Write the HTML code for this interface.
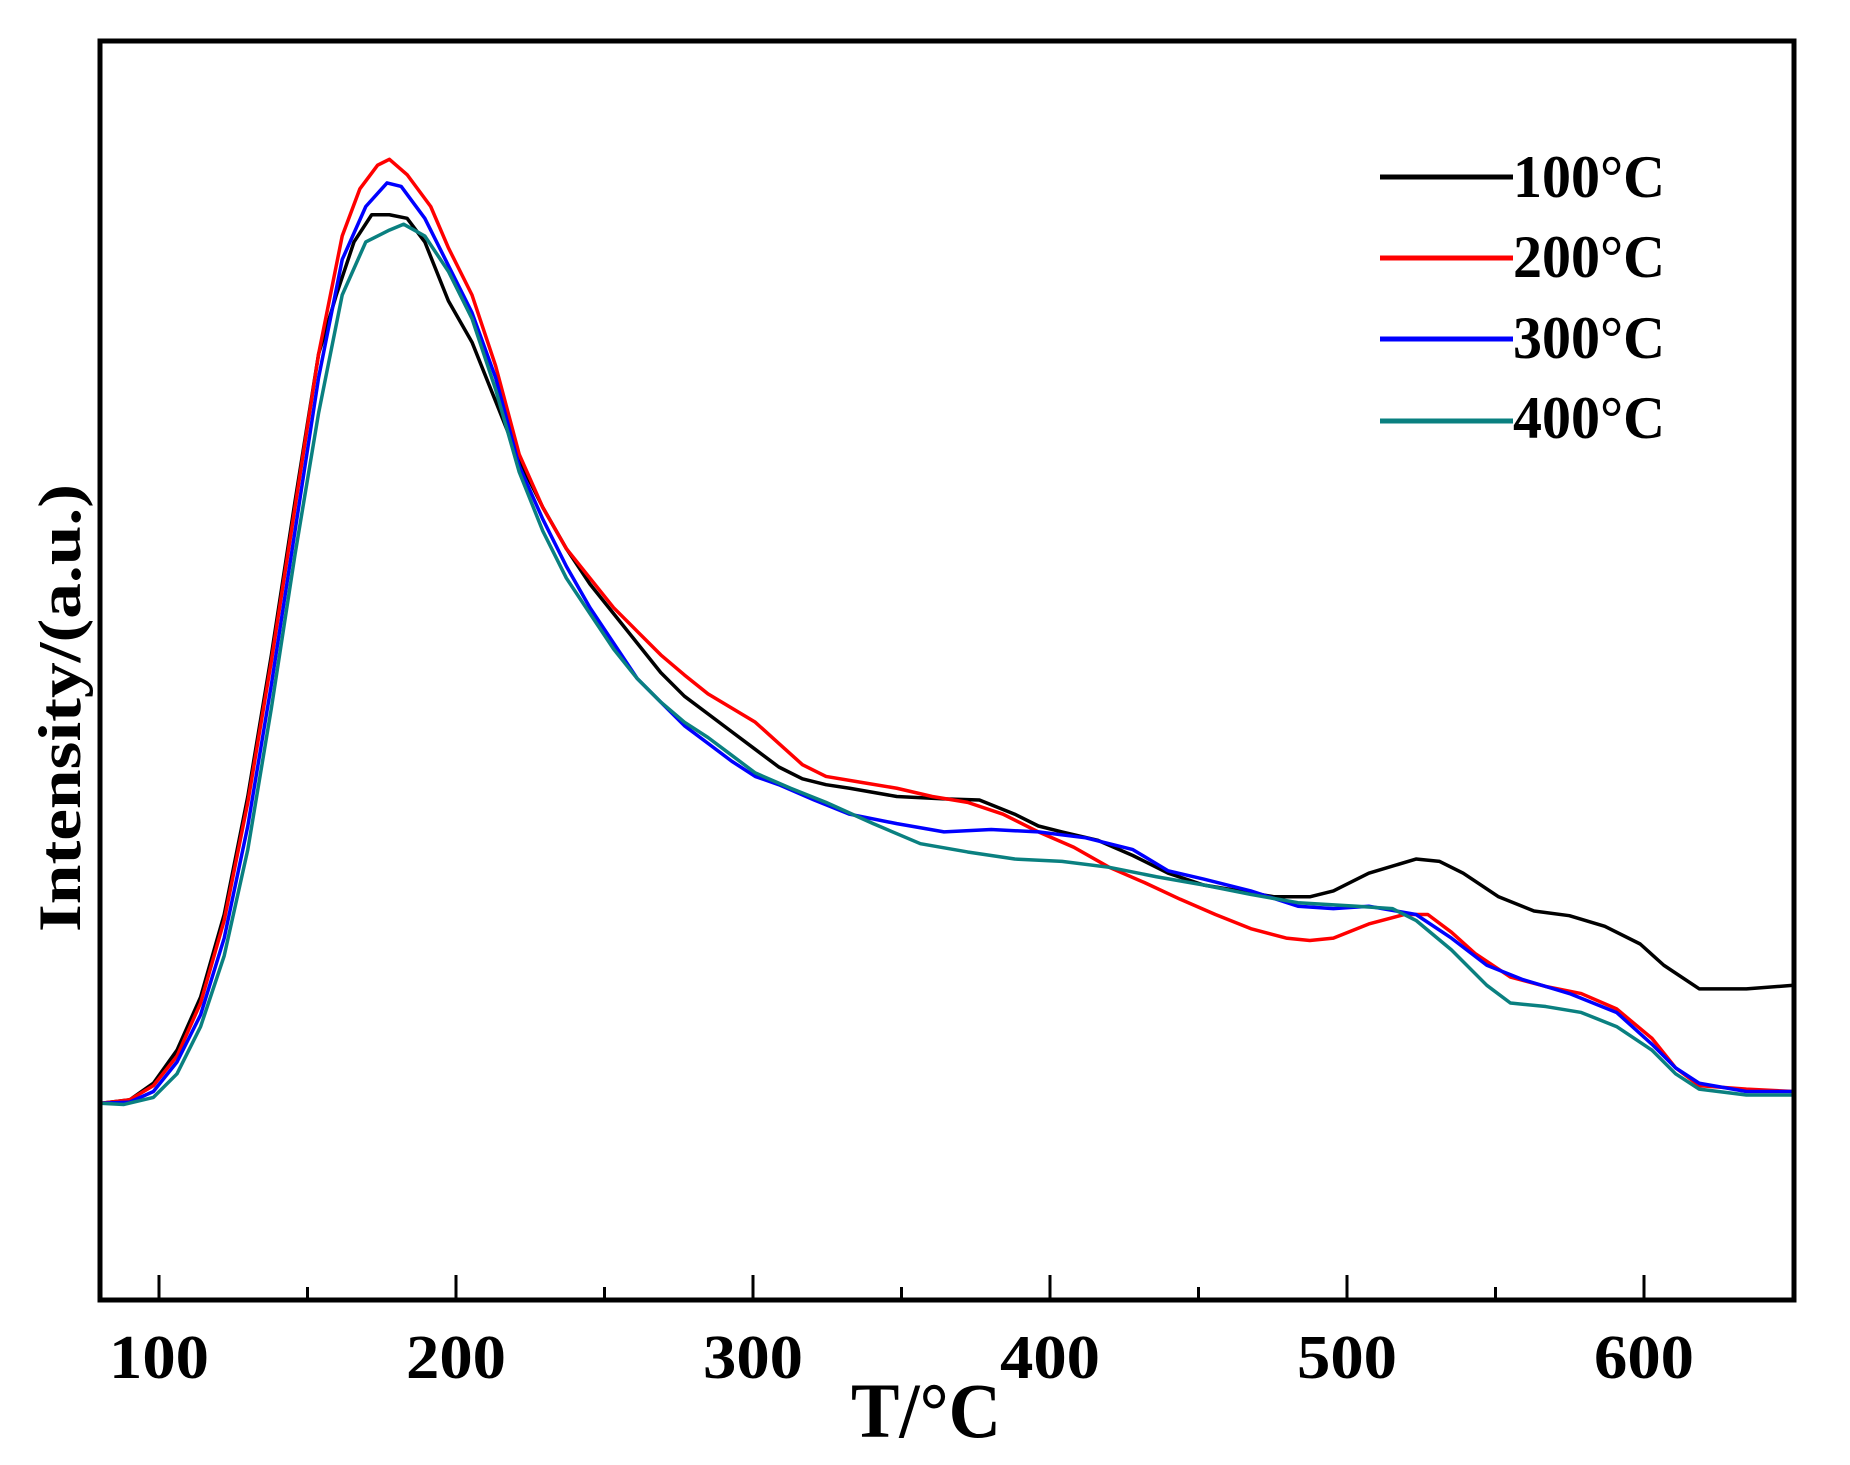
<!DOCTYPE html>
<html><head><meta charset="utf-8"><style>html,body{margin:0;padding:0;background:#fff}svg{display:block}</style></head>
<body>
<svg width="1850" height="1465" viewBox="0 0 1850 1465" xmlns="http://www.w3.org/2000/svg" font-family="Liberation Serif, serif" font-weight="bold">
<rect width="1850" height="1465" fill="#fff"/>
<g fill="none" stroke-linejoin="round" stroke-linecap="round" transform="scale(1.18)">
<polyline vector-effect="non-scaling-stroke" stroke="#000" stroke-width="3.5" points="85,935 110,932 130,918 150,890 170,845 190,775 210,675 230,555 250,425 270,300 285,250 300,205 315,182 330,182 345,185 360,205 380,255 400,290 420,340 440,390 460,430 480,465 500,495 520,520 540,545 560,570 580,590 600,605 620,620 640,635 660,650 680,660 700,665 720,668 760,675 800,677 830,678 860,690 880,700 900,705 930,712 960,725 990,740 1020,750 1050,755 1080,760 1110,760 1130,755 1160,740 1200,728 1220,730 1240,740 1270,760 1300,772 1330,776 1360,785 1390,800 1410,818 1440,838 1480,838 1520,835"/>
<polyline vector-effect="non-scaling-stroke" stroke="#f00" stroke-width="3.5" points="85,935 110,932 130,920 150,895 170,850 190,780 210,680 230,560 250,430 270,300 290,200 305,160 320,140 330,135 345,148 365,175 380,210 400,250 420,310 440,385 460,430 480,465 500,490 520,515 540,535 560,555 580,572 600,588 620,600 640,612 660,630 680,648 700,658 730,663 760,668 790,675 820,680 850,690 880,705 910,718 940,735 970,748 1000,762 1030,775 1060,787 1090,795 1110,797 1130,795 1160,783 1190,775 1210,775 1230,790 1250,808 1280,828 1310,836 1340,842 1370,855 1400,880 1420,905 1440,920 1480,923 1520,925"/>
<polyline vector-effect="non-scaling-stroke" stroke="#00f" stroke-width="3.5" points="85,935 110,934 130,925 150,900 170,860 190,795 210,700 230,580 250,450 270,320 290,220 310,175 328,155 340,158 360,185 380,225 400,265 420,320 440,395 460,440 480,480 500,515 520,545 540,575 560,595 580,615 600,630 620,645 640,658 660,665 690,678 720,690 760,698 800,705 840,703 880,705 920,710 960,720 990,738 1020,745 1060,755 1100,768 1130,770 1160,768 1200,775 1230,795 1260,818 1290,830 1330,842 1370,858 1400,885 1420,905 1440,918 1480,925 1520,925"/>
<polyline vector-effect="non-scaling-stroke" stroke="#0a8080" stroke-width="3.5" points="85,935 105,936 130,930 150,910 170,870 190,810 210,720 230,600 250,470 270,350 290,250 310,205 330,195 342,190 360,200 380,230 400,270 420,330 440,400 460,450 480,490 500,520 520,550 540,575 560,595 580,612 600,625 620,640 640,655 670,668 700,680 740,698 780,715 820,722 860,728 900,730 940,735 980,743 1020,750 1060,758 1100,765 1150,768 1180,770 1200,780 1230,805 1260,835 1280,850 1310,853 1340,858 1370,870 1400,890 1420,910 1440,923 1480,928 1520,928"/>
</g>
<rect x="100" y="41" width="1694" height="1259" fill="none" stroke="#000" stroke-width="5"/>
<g stroke="#000" stroke-width="3">
<line x1="159" y1="1300" x2="159" y2="1275"/><line x1="307.5" y1="1300" x2="307.5" y2="1287"/>
<line x1="456" y1="1300" x2="456" y2="1275"/><line x1="604.5" y1="1300" x2="604.5" y2="1287"/>
<line x1="753" y1="1300" x2="753" y2="1275"/><line x1="901.5" y1="1300" x2="901.5" y2="1287"/>
<line x1="1050" y1="1300" x2="1050" y2="1275"/><line x1="1198.5" y1="1300" x2="1198.5" y2="1287"/>
<line x1="1347" y1="1300" x2="1347" y2="1275"/><line x1="1495.5" y1="1300" x2="1495.5" y2="1287"/>
<line x1="1644" y1="1300" x2="1644" y2="1275"/>
</g>
<g font-size="62" text-anchor="middle" fill="#000">
<text x="159" y="1378" textLength="100" lengthAdjust="spacingAndGlyphs">100</text><text x="456" y="1378" textLength="100" lengthAdjust="spacingAndGlyphs">200</text><text x="753" y="1378" textLength="100" lengthAdjust="spacingAndGlyphs">300</text>
<text x="1050" y="1378" textLength="100" lengthAdjust="spacingAndGlyphs">400</text><text x="1347" y="1378" textLength="100" lengthAdjust="spacingAndGlyphs">500</text><text x="1644" y="1378" textLength="100" lengthAdjust="spacingAndGlyphs">600</text>
<text x="926" y="1437" font-size="78" textLength="150" lengthAdjust="spacingAndGlyphs">T/°C</text>
<text transform="translate(80,708) rotate(-90)" font-size="60" textLength="448" lengthAdjust="spacingAndGlyphs">Intensity/(a.u.)</text>
</g>
<g stroke-width="5">
<line x1="1380" y1="177" x2="1513" y2="177" stroke="#000"/>
<line x1="1380" y1="258" x2="1513" y2="258" stroke="#f00"/>
<line x1="1380" y1="339" x2="1513" y2="339" stroke="#00f"/>
<line x1="1380" y1="421" x2="1513" y2="421" stroke="#0a8080"/>
</g>
<g font-size="60" fill="#000">
<text x="1513" y="197" textLength="152" lengthAdjust="spacingAndGlyphs">100°C</text><text x="1513" y="277" textLength="152" lengthAdjust="spacingAndGlyphs">200°C</text>
<text x="1513" y="358" textLength="152" lengthAdjust="spacingAndGlyphs">300°C</text><text x="1513" y="438" textLength="152" lengthAdjust="spacingAndGlyphs">400°C</text>
</g>
</svg>
</body></html>
